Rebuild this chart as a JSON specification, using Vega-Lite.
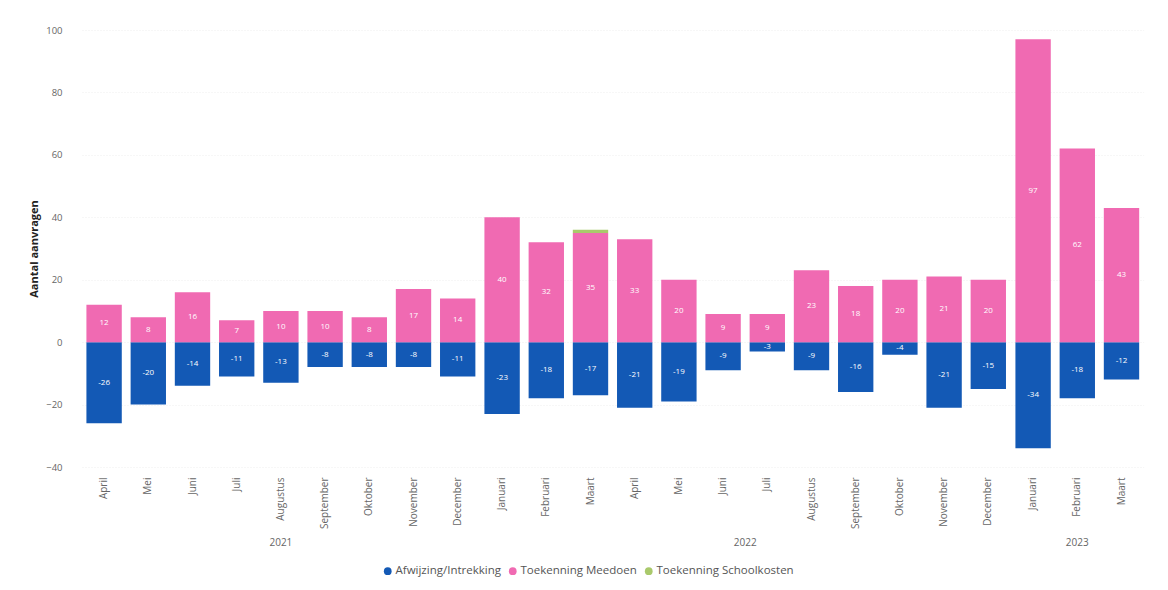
{
  "$schema": "https://vega.github.io/schema/vega-lite/v6.json",
  "background": "white",
  "padding": {"top": 25, "left": 28, "right": 16, "bottom": 8},
  "config": {
    "font": "Open Sans",
    "view": {"stroke": null},
    "legend": {"orient": "none", "legendX": 300, "legendY": 535, "direction": "horizontal", "symbolType": "circle", "symbolSize": 60, "labelFontSize": 11.5, "labelColor": "#555", "title": null, "columnPadding": 6, "symbolOffset": 0, "labelOffset": 2}
  },
  "data": {"values": [
    {"year": "2021", "month": "April", "idx": 1, "category": "Afwijzing/Intrekking", "value": -26},
    {"year": "2021", "month": "April", "idx": 1, "category": "Toekenning Meedoen", "value": 12},
    {"year": "2021", "month": "Mei", "idx": 2, "category": "Afwijzing/Intrekking", "value": -20},
    {"year": "2021", "month": "Mei", "idx": 2, "category": "Toekenning Meedoen", "value": 8},
    {"year": "2021", "month": "Juni", "idx": 3, "category": "Afwijzing/Intrekking", "value": -14},
    {"year": "2021", "month": "Juni", "idx": 3, "category": "Toekenning Meedoen", "value": 16},
    {"year": "2021", "month": "Juli", "idx": 4, "category": "Afwijzing/Intrekking", "value": -11},
    {"year": "2021", "month": "Juli", "idx": 4, "category": "Toekenning Meedoen", "value": 7},
    {"year": "2021", "month": "Augustus", "idx": 5, "category": "Afwijzing/Intrekking", "value": -13},
    {"year": "2021", "month": "Augustus", "idx": 5, "category": "Toekenning Meedoen", "value": 10},
    {"year": "2021", "month": "September", "idx": 6, "category": "Afwijzing/Intrekking", "value": -8},
    {"year": "2021", "month": "September", "idx": 6, "category": "Toekenning Meedoen", "value": 10},
    {"year": "2021", "month": "Oktober", "idx": 7, "category": "Afwijzing/Intrekking", "value": -8},
    {"year": "2021", "month": "Oktober", "idx": 7, "category": "Toekenning Meedoen", "value": 8},
    {"year": "2021", "month": "November", "idx": 8, "category": "Afwijzing/Intrekking", "value": -8},
    {"year": "2021", "month": "November", "idx": 8, "category": "Toekenning Meedoen", "value": 17},
    {"year": "2021", "month": "December", "idx": 9, "category": "Afwijzing/Intrekking", "value": -11},
    {"year": "2021", "month": "December", "idx": 9, "category": "Toekenning Meedoen", "value": 14},
    {"year": "2022", "month": "Januari", "idx": 10, "category": "Afwijzing/Intrekking", "value": -23},
    {"year": "2022", "month": "Januari", "idx": 10, "category": "Toekenning Meedoen", "value": 40},
    {"year": "2022", "month": "Februari", "idx": 11, "category": "Afwijzing/Intrekking", "value": -18},
    {"year": "2022", "month": "Februari", "idx": 11, "category": "Toekenning Meedoen", "value": 32},
    {"year": "2022", "month": "Maart", "idx": 12, "category": "Afwijzing/Intrekking", "value": -17},
    {"year": "2022", "month": "Maart", "idx": 12, "category": "Toekenning Meedoen", "value": 35},
    {"year": "2022", "month": "Maart", "idx": 12, "category": "Toekenning Schoolkosten", "value": 1},
    {"year": "2022", "month": "April", "idx": 13, "category": "Afwijzing/Intrekking", "value": -21},
    {"year": "2022", "month": "April", "idx": 13, "category": "Toekenning Meedoen", "value": 33},
    {"year": "2022", "month": "Mei", "idx": 14, "category": "Afwijzing/Intrekking", "value": -19},
    {"year": "2022", "month": "Mei", "idx": 14, "category": "Toekenning Meedoen", "value": 20},
    {"year": "2022", "month": "Juni", "idx": 15, "category": "Afwijzing/Intrekking", "value": -9},
    {"year": "2022", "month": "Juni", "idx": 15, "category": "Toekenning Meedoen", "value": 9},
    {"year": "2022", "month": "Juli", "idx": 16, "category": "Afwijzing/Intrekking", "value": -3},
    {"year": "2022", "month": "Juli", "idx": 16, "category": "Toekenning Meedoen", "value": 9},
    {"year": "2022", "month": "Augustus", "idx": 17, "category": "Afwijzing/Intrekking", "value": -9},
    {"year": "2022", "month": "Augustus", "idx": 17, "category": "Toekenning Meedoen", "value": 23},
    {"year": "2022", "month": "September", "idx": 18, "category": "Afwijzing/Intrekking", "value": -16},
    {"year": "2022", "month": "September", "idx": 18, "category": "Toekenning Meedoen", "value": 18},
    {"year": "2022", "month": "Oktober", "idx": 19, "category": "Afwijzing/Intrekking", "value": -4},
    {"year": "2022", "month": "Oktober", "idx": 19, "category": "Toekenning Meedoen", "value": 20},
    {"year": "2022", "month": "November", "idx": 20, "category": "Afwijzing/Intrekking", "value": -21},
    {"year": "2022", "month": "November", "idx": 20, "category": "Toekenning Meedoen", "value": 21},
    {"year": "2022", "month": "December", "idx": 21, "category": "Afwijzing/Intrekking", "value": -15},
    {"year": "2022", "month": "December", "idx": 21, "category": "Toekenning Meedoen", "value": 20},
    {"year": "2023", "month": "Januari", "idx": 22, "category": "Afwijzing/Intrekking", "value": -34},
    {"year": "2023", "month": "Januari", "idx": 22, "category": "Toekenning Meedoen", "value": 97},
    {"year": "2023", "month": "Februari", "idx": 23, "category": "Afwijzing/Intrekking", "value": -18},
    {"year": "2023", "month": "Februari", "idx": 23, "category": "Toekenning Meedoen", "value": 62},
    {"year": "2023", "month": "Maart", "idx": 24, "category": "Afwijzing/Intrekking", "value": -12},
    {"year": "2023", "month": "Maart", "idx": 24, "category": "Toekenning Meedoen", "value": 43}
  ]},
  "transform": [{"calculate": "datum.value / 2", "as": "mid"}],
  "facet": {
    "column": {
      "field": "year", "type": "ordinal",
      "header": {"labelOrient": "bottom", "title": null, "labelFontSize": 10, "labelColor": "#666", "labelPadding": 9, "labelFont": "Open Sans"}
    }
  },
  "spacing": 0,
  "resolve": {"scale": {"x": "independent"}},
  "spec": {
    "width": {"step": 44.2},
    "height": 437,
    "encoding": {
      "x": {
        "field": "month", "type": "nominal", "sort": {"field": "idx", "op": "min"},
        "title": null,
        "scale": {"paddingInner": 0.2, "paddingOuter": 0.1},
        "axis": {"labelAngle": -90, "labelFontSize": 10, "labelColor": "#666", "domain": false, "ticks": false, "labelPadding": 10}
      }
    },
    "layer": [
      {
        "mark": {"type": "bar"},
        "encoding": {
          "y": {
            "field": "value", "type": "quantitative", "stack": "zero",
            "scale": {"domain": [-40, 100], "nice": false},
            "axis": {"title": "Aantal aanvragen", "titleFontSize": 11, "titleFontWeight": "bold", "titleColor": "#222", "titlePadding": 6, "values": [-40, -20, 0, 20, 40, 60, 80, 100], "labelFontSize": 9.5, "labelColor": "#666", "labelPadding": 20, "domain": false, "ticks": false, "gridColor": "#eeeeee", "gridDash": [1, 2]}
          },
          "color": {
            "field": "category", "type": "nominal",
            "scale": {"domain": ["Afwijzing/Intrekking", "Toekenning Meedoen", "Toekenning Schoolkosten"], "range": ["#1359B5", "#F06AB2", "#A9C96B"]},
            "legend": {"title": null}
          },
          "order": {"field": "category", "sort": "ascending"}
        }
      },
      {
        "transform": [{"filter": "datum.category !== 'Toekenning Schoolkosten'"}],
        "mark": {"type": "text", "color": "white", "fontSize": 8},
        "encoding": {
          "y": {"field": "mid", "type": "quantitative", "stack": null},
          "text": {"field": "value", "type": "nominal"}
        }
      }
    ]
  }
}
